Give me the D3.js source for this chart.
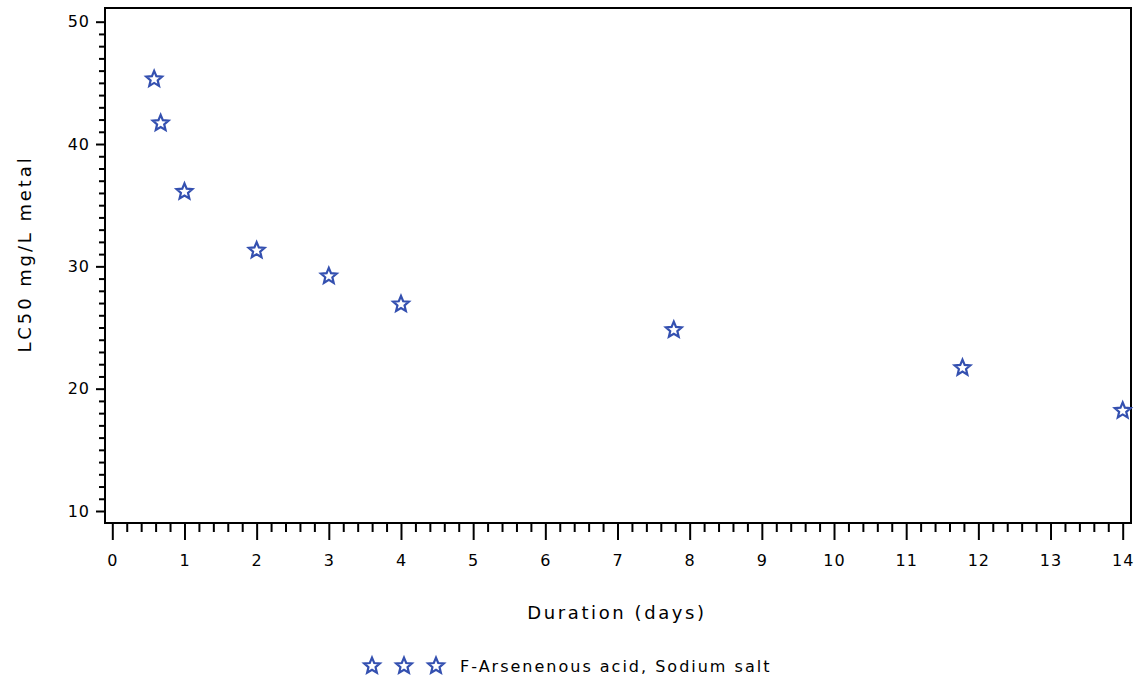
<!DOCTYPE html>
<html>
<head>
<meta charset="utf-8">
<script src="https://cdn.jsdelivr.net/npm/d3@7"></script>
<style>
  html, body { margin: 0; padding: 0; background: #fff; }
  svg { display: block; }
  text { font-family: "DejaVu Sans", sans-serif; fill: #000; }
</style>
</head>
<body>
<svg id="chart" width="1141" height="683"></svg>
<script>
// LC50 vs exposure duration
const durations = [0.58, 0.67, 1, 2, 3, 4, 7.78, 11.78, 14];
const lc50 = [45.3, 41.7, 36.1, 31.3, 29.2, 26.9, 24.8, 21.7, 18.2];
const xTicks = [0, 1, 2, 3, 4, 5, 6, 7, 8, 9, 10, 11, 12, 13, 14];
const yTicks = [10, 20, 30, 40, 50];
const seriesName = "F-Arsenenous acid, Sodium salt";
const xTitle = "Duration (days)";
const yTitle = "LC50 mg/L metal";

const svg = d3.select("#chart");
const frame = { left: 105, right: 1131, top: 8, bottom: 523 };
const starColor = "#3450b0";

const x = d3.scaleLinear().domain([0, 14]).range([112.3, 1122.7]);
const y = d3.scaleLinear().domain([10, 50]).range([511, 21.7]);

// outlined five-point star
function starPath(r) {
  const inner = r * 0.45;
  const pts = [];
  for (let i = 0; i < 10; i++) {
    const rad = i % 2 === 0 ? r : inner;
    const a = -Math.PI / 2 + i * Math.PI / 5;
    pts.push([rad * Math.cos(a), rad * Math.sin(a)]);
  }
  return "M" + pts.map(p => p[0].toFixed(2) + "," + p[1].toFixed(2)).join("L") + "Z";
}
const star = starPath(8.3);

// minor ticks
const xMinor = d3.range(0, 14.0001, 0.2).filter(v => Math.abs(v - Math.round(v)) > 1e-6);
const yMinor = d3.range(10, 50.0001, 1).filter(v => v % 10 !== 0);

const xAxis = svg.append("g")
  .attr("transform", `translate(0,${frame.bottom})`)
  .call(d3.axisBottom(x).tickValues(xTicks).tickSize(17).tickPadding(15).tickFormat(d3.format("d")));
const xAxisMinor = svg.append("g")
  .attr("transform", `translate(0,${frame.bottom})`)
  .call(d3.axisBottom(x).tickValues(xMinor).tickSize(9).tickFormat(""));

const yAxis = svg.append("g")
  .attr("transform", `translate(${frame.left},0)`)
  .call(d3.axisLeft(y).tickValues(yTicks).tickSize(9).tickPadding(6).tickFormat(d3.format("d")));
const yAxisMinor = svg.append("g")
  .attr("transform", `translate(${frame.left},0)`)
  .call(d3.axisLeft(y).tickValues(yMinor).tickSize(6).tickFormat(""));

[xAxis, xAxisMinor, yAxis, yAxisMinor].forEach(g => {
  g.select(".domain").remove();
  g.selectAll(".tick line").attr("stroke", "#000").attr("stroke-width", 2);
  g.selectAll(".tick text")
    .style("font-size", "16px")
    .style("letter-spacing", "1px")
    .style("font-family", "DejaVu Sans, sans-serif");
});

// plot frame
svg.append("rect")
  .attr("x", frame.left).attr("y", frame.top)
  .attr("width", frame.right - frame.left).attr("height", frame.bottom - frame.top)
  .attr("fill", "none").attr("stroke", "#000").attr("stroke-width", 2);

// data points
svg.append("g").selectAll("path")
  .data(durations.map((d, i) => [d, lc50[i]]))
  .join("path")
  .attr("d", star)
  .attr("transform", d => `translate(${x(d[0])},${y(d[1])})`)
  .attr("fill", "none")
  .attr("stroke", starColor)
  .attr("stroke-width", 2.2)
  .attr("stroke-linejoin", "miter");

// axis titles
svg.append("text")
  .attr("x", 617).attr("y", 619)
  .attr("text-anchor", "middle")
  .style("font-size", "18px").style("letter-spacing", "2.6px")
  .text(xTitle);

svg.append("text")
  .attr("transform", `translate(31,254) rotate(-90)`)
  .attr("text-anchor", "middle")
  .style("font-size", "18px").style("letter-spacing", "2.9px")
  .text(yTitle);

// legend
const legend = svg.append("g");
[372, 404, 436].forEach(cx => {
  legend.append("path")
    .attr("d", star)
    .attr("transform", `translate(${cx},666)`)
    .attr("fill", "none").attr("stroke", starColor).attr("stroke-width", 2.2);
});
legend.append("text")
  .attr("x", 460).attr("y", 672)
  .style("font-size", "16px").style("letter-spacing", "2px")
  .text(seriesName);
</script>
</body>
</html>
